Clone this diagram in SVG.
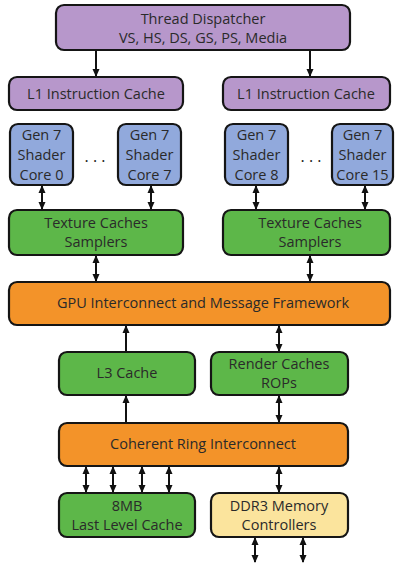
<svg xmlns="http://www.w3.org/2000/svg" width="396" height="563" viewBox="0 0 396 563">
  <defs>
    <marker id="ah" viewBox="0 0 8 8" refX="7" refY="4" markerWidth="8" markerHeight="8" markerUnits="userSpaceOnUse" orient="auto-start-reverse">
      <path d="M0,0.5 L8,4 L0,7.5 Z" fill="#111"/>
    </marker>
    <style>
      .box { stroke: #151515; stroke-width: 2.2; }
      .purple { fill: #b797cb; }
      .blue { fill: #91a9dc; }
      .green { fill: #5db749; }
      .orange { fill: #f39329; }
      .yellow { fill: #fbe49d; }
      text { font-family: "Open Sans", "Liberation Sans", sans-serif; font-size: 14.5px; fill: #2a2a2a; text-anchor: middle; }
      .c line { stroke: #111; stroke-width: 2; }
      .dots { font-size: 16px; fill: #222; }
    </style>
  </defs>

  <rect width="396" height="563" fill="#fff"/>

  <!-- connectors -->
  <g id="connectors" class="c">
    <line x1="96" y1="50" x2="96" y2="76" marker-end="url(#ah)"/>
    <line x1="310" y1="50" x2="310" y2="76" marker-end="url(#ah)"/>

    <line x1="42" y1="186" x2="42" y2="209" marker-start="url(#ah)" marker-end="url(#ah)"/>
    <line x1="151" y1="186" x2="151" y2="209" marker-start="url(#ah)" marker-end="url(#ah)"/>
    <line x1="256" y1="186" x2="256" y2="209" marker-start="url(#ah)" marker-end="url(#ah)"/>
    <line x1="365" y1="186" x2="365" y2="209" marker-start="url(#ah)" marker-end="url(#ah)"/>

    <line x1="96" y1="256" x2="96" y2="281" marker-start="url(#ah)" marker-end="url(#ah)"/>
    <line x1="310" y1="256" x2="310" y2="281" marker-start="url(#ah)" marker-end="url(#ah)"/>

    <line x1="126" y1="352" x2="126" y2="326" marker-end="url(#ah)"/>
    <line x1="279" y1="326" x2="279" y2="351" marker-start="url(#ah)" marker-end="url(#ah)"/>

    <line x1="126" y1="423" x2="126" y2="396" marker-end="url(#ah)"/>
    <line x1="279" y1="396" x2="279" y2="422" marker-start="url(#ah)" marker-end="url(#ah)"/>

    <line x1="86" y1="467" x2="86" y2="492" marker-start="url(#ah)" marker-end="url(#ah)"/>
    <line x1="113" y1="467" x2="113" y2="492" marker-start="url(#ah)" marker-end="url(#ah)"/>
    <line x1="142" y1="467" x2="142" y2="492" marker-start="url(#ah)" marker-end="url(#ah)"/>
    <line x1="169" y1="467" x2="169" y2="492" marker-start="url(#ah)" marker-end="url(#ah)"/>
    <line x1="279" y1="467" x2="279" y2="492" marker-start="url(#ah)" marker-end="url(#ah)"/>

    <line x1="255" y1="538" x2="255" y2="562" marker-start="url(#ah)" marker-end="url(#ah)"/>
    <line x1="303" y1="538" x2="303" y2="562" marker-start="url(#ah)" marker-end="url(#ah)"/>
  </g>

  <g id="thread-dispatcher">
    <rect class="box purple" x="56" y="5" width="294" height="45" rx="8"/>
    <text x="203" y="24">Thread Dispatcher</text>
    <text x="203" y="43">VS, HS, DS, GS, PS, Media</text>
  </g>

  <g id="l1-left">
    <rect class="box purple" x="9" y="77" width="174" height="33" rx="8"/>
    <text x="96" y="99">L1 Instruction Cache</text>
  </g>
  <g id="l1-right">
    <rect class="box purple" x="223" y="77" width="167" height="33" rx="8"/>
    <text x="306" y="99">L1 Instruction Cache</text>
  </g>

  <g id="core-0">
    <rect class="box blue" x="10" y="124" width="63" height="61" rx="8"/>
    <text x="41.5" y="140">Gen 7</text>
    <text x="41.5" y="160">Shader</text>
    <text x="41.5" y="180">Core 0</text>
  </g>
  <g id="core-7">
    <rect class="box blue" x="118" y="124" width="63" height="61" rx="8"/>
    <text x="149.5" y="140">Gen 7</text>
    <text x="149.5" y="160">Shader</text>
    <text x="149.5" y="180">Core 7</text>
  </g>
  <g id="core-8">
    <rect class="box blue" x="225" y="124" width="63" height="61" rx="8"/>
    <text x="256.5" y="140">Gen 7</text>
    <text x="256.5" y="160">Shader</text>
    <text x="256.5" y="180">Core 8</text>
  </g>
  <g id="core-15">
    <rect class="box blue" x="332" y="124" width="61" height="61" rx="8"/>
    <text x="362.5" y="140">Gen 7</text>
    <text x="362.5" y="160">Shader</text>
    <text x="362.5" y="180">Core 15</text>
  </g>
  <g id="dots-left"><text class="dots" x="95" y="162">. . .</text></g>
  <g id="dots-right"><text class="dots" x="311" y="162">. . .</text></g>

  <g id="texture-left">
    <rect class="box green" x="9" y="210" width="174" height="45" rx="8"/>
    <text x="96" y="228">Texture Caches</text>
    <text x="96" y="247">Samplers</text>
  </g>
  <g id="texture-right">
    <rect class="box green" x="223" y="210" width="167" height="45" rx="8"/>
    <text x="310" y="228">Texture Caches</text>
    <text x="310" y="247">Samplers</text>
  </g>

  <g id="gpu-interconnect">
    <rect class="box orange" x="9" y="282" width="381" height="43" rx="8"/>
    <text x="203" y="308">GPU Interconnect and Message Framework</text>
  </g>

  <g id="l3-cache">
    <rect class="box green" x="59" y="352" width="136" height="43" rx="8"/>
    <text x="127" y="378">L3 Cache</text>
  </g>
  <g id="render-caches">
    <rect class="box green" x="211" y="352" width="137" height="43" rx="8"/>
    <text x="279" y="369">Render Caches</text>
    <text x="279" y="388">ROPs</text>
  </g>

  <g id="coherent-ring">
    <rect class="box orange" x="59" y="423" width="289" height="43" rx="8"/>
    <text x="203" y="449">Coherent Ring Interconnect</text>
  </g>

  <g id="llc">
    <rect class="box green" x="59" y="493" width="136" height="44" rx="8"/>
    <text x="127" y="511">8MB</text>
    <text x="127" y="530">Last Level Cache</text>
  </g>
  <g id="ddr3">
    <rect class="box yellow" x="211" y="493" width="137" height="44" rx="8"/>
    <text x="279" y="511">DDR3 Memory</text>
    <text x="279" y="530">Controllers</text>
  </g>
</svg>
